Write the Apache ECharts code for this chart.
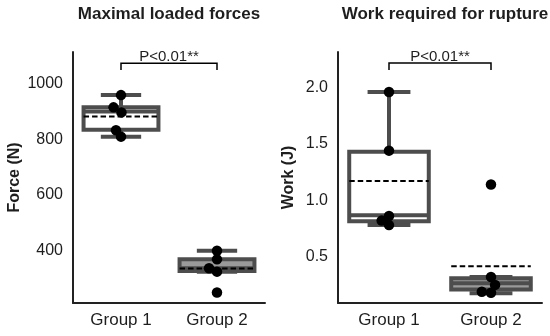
<!DOCTYPE html>
<html>
<head>
<meta charset="utf-8">
<script src="https://cdn.jsdelivr.net/npm/echarts@6/dist/echarts.min.js"></script>
<style>
html,body{margin:0;padding:0;background:#fff;}
#chart{width:550px;height:336px;}
</style>
</head>
<body>
<div id="chart"></div>
<script>
// ---------- data ----------
const categories = ['Group 1', 'Group 2'];
const titles = ['Maximal loaded forces', 'Work required for rupture'];
const yNames = ['Force (N)', 'Work (J)'];
const pLabel = 'P<0.01**';

// Force (N) summary: [whiskerLow, Q1, median, Q3, whiskerHigh, mean]
const forceBoxG1 = [809, 834, 899, 914, 958, 881];
const forceBoxG2 = [325, 327, 337, 369, 400, 336];
// Force individual points and their horizontal jitter (category units)
const forcePointsG1 = [958, 914, 896, 832, 809];
const forceJitterG1 = [0, -0.078, 0.005, -0.052, 0];
const forcePointsG2 = [400, 369, 337, 325, 250];
const forceJitterG2 = [0, 0, -0.083, 0, 0];
const forceTicks = [400, 600, 800, 1000];
const forceRange = [212.5, 1112.5];
const forceBracket = [1048, 1072];

// Work (J) summary
const workBoxG1 = [0.78, 0.815, 0.867, 1.43, 1.96, 1.17];
const workBoxG2 = [0.175, 0.21, 0.265, 0.31, 0.32, 0.416];
const workPointsG1 = [1.96, 1.44, 0.86, 0.82, 0.78];
const workJitterG1 = [0, 0, 0, -0.072, 0];
const workPointsG2 = [1.14, 0.32, 0.25, 0.19, 0.18];
const workJitterG2 = [0, 0, 0.04, -0.09, 0];
const workTicks = [0.5, 1.0, 1.5, 2.0];
const workRange = [0.0895, 2.3146];
const workBracket = [2.155, 2.217];

// ---------- styles ----------
const BOX = '#4d4d4d';
const boxFills = ['#ffffff', '#9a9a9a'];
const TXT = '#1e1e1e';
const FONT = 'Liberation Sans, Arial, sans-serif';

function boxRender(params, api) {
  const x = api.value(0);
  const band = api.size([1, 0])[0];
  const wl = api.coord([x, api.value(1)]);
  const q1 = api.coord([x, api.value(2)]);
  const md = api.coord([x, api.value(3)]);
  const q3 = api.coord([x, api.value(4)]);
  const wh = api.coord([x, api.value(5)]);
  const mn = api.coord([x, api.value(6)]);
  const cx = q1[0];
  const bw = band * 0.78;
  const cw = band * 0.42;
  const lw = 4;
  return {
    type: 'group',
    children: [
      {type: 'line', shape: {x1: cx, y1: q3[1], x2: cx, y2: wh[1]}, style: {stroke: BOX, lineWidth: lw}},
      {type: 'line', shape: {x1: cx, y1: q1[1], x2: cx, y2: wl[1]}, style: {stroke: BOX, lineWidth: lw}},
      {type: 'line', shape: {x1: cx - cw / 2, y1: wh[1], x2: cx + cw / 2, y2: wh[1]}, style: {stroke: BOX, lineWidth: lw}},
      {type: 'line', shape: {x1: cx - cw / 2, y1: wl[1], x2: cx + cw / 2, y2: wl[1]}, style: {stroke: BOX, lineWidth: lw}},
      {type: 'rect', shape: {x: cx - bw / 2, y: q3[1], width: bw, height: q1[1] - q3[1]},
        style: {fill: boxFills[params.dataIndex], stroke: BOX, lineWidth: lw}},
      {type: 'line', shape: {x1: cx - bw / 2, y1: md[1], x2: cx + bw / 2, y2: md[1]}, style: {stroke: BOX, lineWidth: lw}},
      {type: 'line', shape: {x1: cx - bw / 2, y1: mn[1], x2: cx + bw / 2, y2: mn[1]},
        style: {stroke: '#000', lineWidth: 2, lineDash: [5.5, 3]}}
    ]
  };
}

function bracketRender(params, api) {
  const lo = api.value(1), hi = api.value(2);
  const a0 = api.coord([0, lo]), a1 = api.coord([0, hi]);
  const b0 = api.coord([1, lo]), b1 = api.coord([1, hi]);
  return {
    type: 'group',
    children: [
      {type: 'polyline', shape: {points: [a0, a1, b1, b0]}, style: {stroke: '#000', lineWidth: 1.5, fill: null}},
      {type: 'text', style: {x: (a1[0] + b1[0]) / 2, y: a1[1] + 1, text: pLabel, align: 'center', verticalAlign: 'bottom',
        fontSize: 15, fontFamily: FONT, fill: TXT}}
    ]
  };
}

function boxRows(g1, g2) {
  return [[0].concat(g1), [1].concat(g2)];
}
function pointRows(p1, j1, p2, j2) {
  const rows = [];
  p1.forEach((v, i) => rows.push([0 + j1[i], v]));
  p2.forEach((v, i) => rows.push([1 + j2[i], v]));
  return rows;
}

const grids = [
  {left: 73, right: 285, top: 52, bottom: 33},
  {left: 338, right: 8, top: 52, bottom: 33}
];

function catAxis(gi) {
  return {
    type: 'category', gridIndex: gi, data: categories, boundaryGap: true,
    axisLine: {onZero: false, lineStyle: {color: '#222', width: 2}},
    axisTick: {show: false},
    axisLabel: {fontSize: 17, color: TXT, fontFamily: FONT, margin: 9}
  };
}
function valXAxis(gi) {
  return {type: 'value', gridIndex: gi, min: -0.5, max: 1.5, show: false, axisLine: {onZero: false}};
}
function yAxis(gi, range, ticks, name, gap, dec) {
  return {
    type: 'value', gridIndex: gi, min: range[0], max: range[1], position: 'left',
    name: name, nameLocation: 'middle', nameGap: gap,
    nameTextStyle: {fontSize: 16, fontWeight: 'bold', color: TXT, fontFamily: FONT},
    axisLine: {show: true, onZero: false, lineStyle: {color: '#222', width: 2}},
    axisTick: {show: false},
    splitLine: {show: false},
    axisLabel: {customValues: ticks, fontSize: 16, color: TXT, fontFamily: FONT, margin: 10,
      formatter: v => dec ? Number(v).toFixed(1) : String(Math.round(v))}
  };
}

const option = {
  animation: false,
  backgroundColor: '#fff',
  grid: grids,
  xAxis: [catAxis(0), valXAxis(0), catAxis(1), valXAxis(1)],
  yAxis: [
    yAxis(0, forceRange, forceTicks, yNames[0], 50, false),
    yAxis(1, workRange, workTicks, yNames[1], 41, true)
  ],
  graphic: [
    {type: 'text', x: 169, y: 14, style: {text: titles[0], align: 'center', verticalAlign: 'middle',
      fontSize: 17, fontWeight: 'bold', fontFamily: FONT, fill: TXT}},
    {type: 'text', x: 445, y: 14, style: {text: titles[1], align: 'center', verticalAlign: 'middle',
      fontSize: 17, fontWeight: 'bold', fontFamily: FONT, fill: TXT}}
  ],
  series: [
    {type: 'custom', xAxisIndex: 1, yAxisIndex: 0, renderItem: boxRender, data: boxRows(forceBoxG1, forceBoxG2), z: 2},
    {type: 'scatter', xAxisIndex: 1, yAxisIndex: 0, symbolSize: 10.5, itemStyle: {color: '#000', opacity: 1},
      data: pointRows(forcePointsG1, forceJitterG1, forcePointsG2, forceJitterG2), z: 3},
    {type: 'custom', xAxisIndex: 1, yAxisIndex: 0, renderItem: bracketRender, clip: false,
      data: [[0, forceBracket[0], forceBracket[1]]], z: 4},
    {type: 'custom', xAxisIndex: 3, yAxisIndex: 1, renderItem: boxRender, data: boxRows(workBoxG1, workBoxG2), z: 2},
    {type: 'scatter', xAxisIndex: 3, yAxisIndex: 1, symbolSize: 10.5, itemStyle: {color: '#000', opacity: 1},
      data: pointRows(workPointsG1, workJitterG1, workPointsG2, workJitterG2), z: 3},
    {type: 'custom', xAxisIndex: 3, yAxisIndex: 1, renderItem: bracketRender, clip: false,
      data: [[0, workBracket[0], workBracket[1]]], z: 4}
  ]
};

const chart = echarts.init(document.getElementById('chart'), null, {renderer: 'canvas'});
chart.setOption(option);
</script>
</body>
</html>
